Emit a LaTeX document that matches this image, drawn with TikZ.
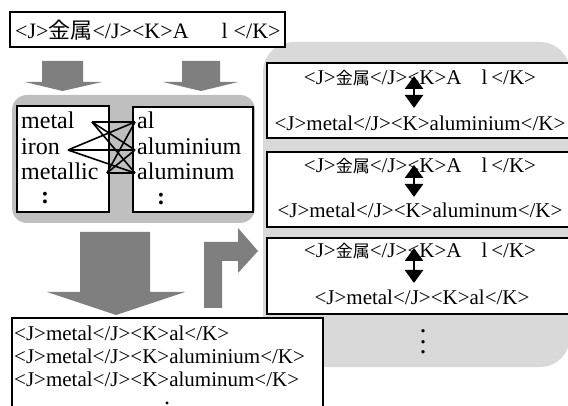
\documentclass[tikz,border=0pt]{standalone}
\usepackage{fontspec}
\setmainfont{Liberation Serif}
\newfontfamily\jpfont{Noto Sans CJK JP}
\usetikzlibrary{arrows.meta}
\definecolor{arrowgray}{HTML}{7F7F7F}
\definecolor{leftgray}{HTML}{BFBFBF}
\definecolor{rightgray}{HTML}{D9D9D9}
\begin{document}
\begin{tikzpicture}[x=1pt,y=-1pt,
  box/.style={draw=black, line width=1.3pt, fill=white, inner sep=0pt},
  txt/.style={inner sep=0pt, font=\fontsize{21}{21}\selectfont},
  toptxt/.style={inner sep=0pt, font=\fontsize{22}{22}\selectfont},
  word/.style={inner sep=0pt, font=\fontsize{24}{24}\selectfont, anchor=base west},
  dotsty/.style={inner sep=0pt, align=center, font=\fontsize{28}{10.5}\selectfont},
  link/.style={line width=1.6pt, black},
  dbl/.style={{Triangle[width=18pt,length=13pt]}-{Triangle[width=18pt,length=13pt]}, line width=2.6pt},
  blockarrow/.style={fill=arrowgray}]
\useasboundingbox (0,0) rectangle (568,406);
\clip (0,0) rectangle (568,406);

% right light region
\node[fill=rightgray, rounded corners=30pt, minimum width=307pt, minimum height=325pt, inner sep=0pt] (rreg) at (416.5,204.5) {};

% top box
\node[box, minimum width=275pt, minimum height=35pt] (topbox) at (147.5,29.5) {};
\node[toptxt, anchor=base west] (toptext) at (15,39) {<J>{\jpfont 金属}</J><K>A\hspace{33pt}l\hspace{6pt}</K>};

% small down arrows
\fill[blockarrow] (42,61) -- (83,61) -- (83,82) -- (102,82) -- (62.5,91) -- (25,82) -- (42,82) -- cycle;
\fill[blockarrow] (182,61) -- (220,61) -- (220,82) -- (238,82) -- (201,91) -- (163,82) -- (182,82) -- cycle;

% left gray region
\node[fill=leftgray, rounded corners=15pt, minimum width=243pt, minimum height=128pt, inner sep=0pt] (lreg) at (133.5,159) {};
\node[box, minimum width=92pt, minimum height=106pt] (lbox) at (63,159) {};
\node[box, minimum width=120pt, minimum height=105pt] (rbox) at (193,159.5) {};

\node[word] (wmetal) at (21,129) {metal};
\node[word] (wiron) at (21,155) {iron};
\node[word] (wmetallic) at (21,180) {metallic};
\node[word, anchor=base, font=\fontsize{24}{24}\selectfont\bfseries] (lcolon) at (45,204) {:};
\node[word] (wal) at (137,129) {al};
\node[word] (waluminium) at (137,155) {aluminium};
\node[word] (waluminum) at (137,180) {aluminum};
\node[word, anchor=base, font=\fontsize{24}{24}\selectfont\bfseries] (rcolon) at (161,205) {:};

\coordinate (m) at (92,122);
\coordinate (i) at (68,150);
\coordinate (mc) at (107,173);
\coordinate (a1) at (135,122);
\coordinate (a2) at (135,150);
\coordinate (a3) at (135,173);
\foreach \s in {m,i,mc}{
  \foreach \t in {a1,a2,a3}{
    \draw[link] (\s) -- (\t);
  }
}

% right boxes
\node[box, minimum width=313pt, minimum height=75pt] (b1) at (423.5,100.5) {};
\node[box, minimum width=313pt, minimum height=75pt] (b2) at (423.5,189.5) {};
\node[box, minimum width=313pt, minimum height=76pt] (b3) at (423.5,276) {};

\node[txt, anchor=base] (b1a) at (420,85) {<J>{\jpfont\fontsize{17}{17}\selectfont 金属}</J><K>A\hspace{20pt}l\hspace{4pt}</K>};
\node[txt, anchor=base] (b1b) at (420,131) {<J>metal</J><K>aluminium</K>};
\node[txt, anchor=base] (b2a) at (420,173) {<J>{\jpfont\fontsize{17}{17}\selectfont 金属}</J><K>A\hspace{20pt}l\hspace{4pt}</K>};
\node[txt, anchor=base] (b2b) at (420,218) {<J>metal</J><K>aluminum</K>};
\node[txt, anchor=base] (b3a) at (420,258) {<J>{\jpfont\fontsize{17}{17}\selectfont 金属}</J><K>A\hspace{20pt}l\hspace{4pt}</K>};
\node[txt, anchor=base] (b3b) at (422,305) {<J>metal</J><K>al</K>};

\coordinate (u1) at (414,76);  \coordinate (d1) at (414,108);
\coordinate (u2) at (414,165); \coordinate (d2) at (414,197);
\coordinate (u3) at (414,248); \coordinate (d3) at (414,283);
\draw[dbl] (u1) -- (d1);
\draw[dbl] (u2) -- (d2);
\draw[dbl] (u3) -- (d3);

\node[dotsty] (rdots) at (423,342) {.\\.\\.};

% big down arrow
\fill[blockarrow] (80,232) -- (150,232) -- (150,292) -- (185,292) -- (116,315) -- (47,292) -- (80,292) -- cycle;
% bent arrow
\fill[blockarrow] (204,308) -- (204,242) -- (238,242) -- (238,228) -- (258,251) -- (238,273) -- (238,261) -- (222,261) -- (222,308) -- cycle;

% bottom box
\node[box, minimum width=311pt, minimum height=110pt] (botbox) at (167.5,373) {};
\node[txt, anchor=base west] (l1) at (14,340) {<J>metal</J><K>al</K>};
\node[txt, anchor=base west] (l2) at (14,363) {<J>metal</J><K>aluminium</K>};
\node[txt, anchor=base west] (l3) at (14,386) {<J>metal</J><K>aluminum</K>};
\node[inner sep=0pt, anchor=base, font=\fontsize{24}{8}\selectfont] (bdot) at (167,404) {.};
\end{tikzpicture}
\end{document}
